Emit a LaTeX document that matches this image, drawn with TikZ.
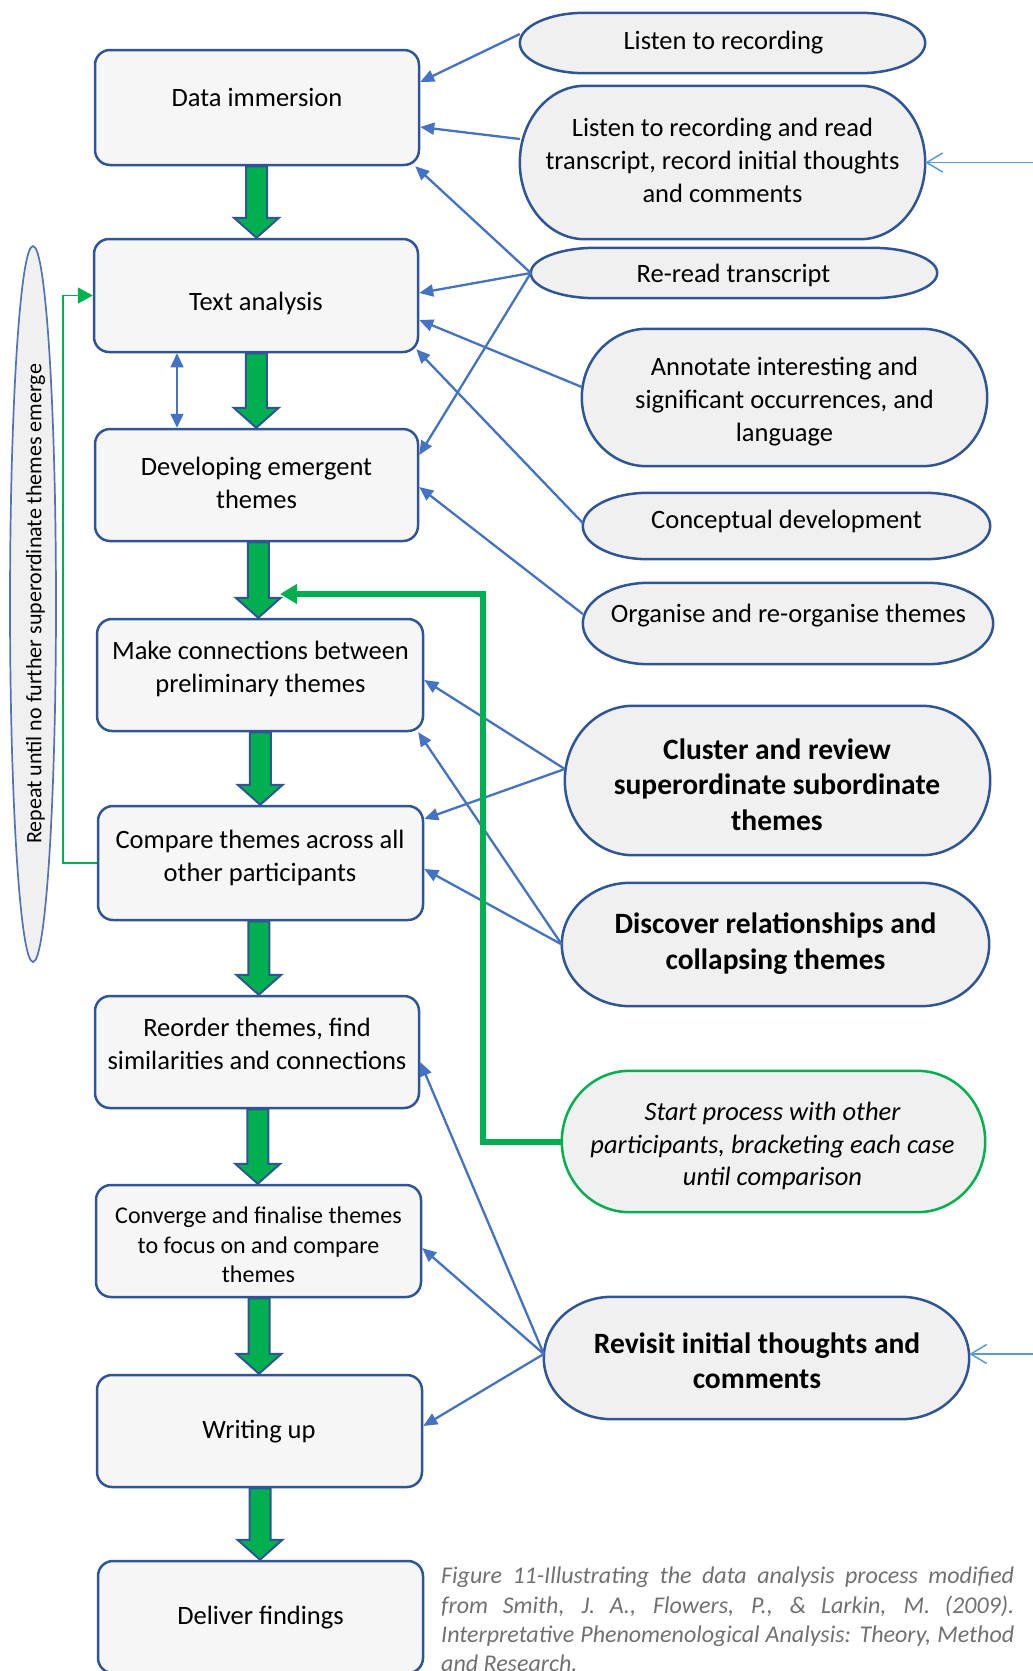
\documentclass[tikz,border=0pt]{standalone}
\usepackage{fontspec}
\setmainfont{Carlito}
\usetikzlibrary{arrows.meta,calc,shapes.geometric}

\definecolor{boxline}{HTML}{2F5597}
\definecolor{boxfill}{HTML}{F6F6F6}
\definecolor{termfill}{HTML}{F0F0F0}
\definecolor{linkblue}{HTML}{4472C4}
\definecolor{feedblue}{HTML}{5B9BD5}
\definecolor{flowgreen}{HTML}{00B050}
\definecolor{captiongray}{HTML}{707070}
\definecolor{loopline}{HTML}{5373B5}

\newcommand\fsz[2]{\fontsize{#1pt}{#2pt}\selectfont}

% outline of a terminator shape (half-ellipse ends) around a rectangular node
\newcommand\termoutline[2]{%
  \path[#2] let \p1=(#1.south west), \p2=(#1.north east),
    \n1={0.16*(\x2-\x1)}, \n2={0.5*(\y2-\y1)} in
    ({\x1+\n1},\y1) -- ({\x2-\n1},\y1)
    arc[start angle=-90, end angle=90, x radius=\n1, y radius=\n2]
    -- ({\x1+\n1},\y2)
    arc[start angle=90, end angle=270, x radius=\n1, y radius=\n2] -- cycle;}

% thick green block arrow from one stage to the next
\newcommand\blockarrow[2]{%
  \path[flow] let \p1=(#1.south), \p2=(#2.north), \n1={0.5*(\x1+\x2)} in
    ({\n1-10.5},\y1) -- ({\n1+10.5},\y1) -- ({\n1+10.5},\y2+20)
    -- ({\n1+22.5},\y2+20) -- (\n1,\y2) -- ({\n1-22.5},\y2+20)
    -- ({\n1-10.5},\y2+20) -- cycle;}

\tikzset{
  stage/.style={rectangle, rounded corners=15pt, draw=boxline, line width=2.5pt,
    fill=boxfill, inner sep=0pt},
  termbox/.style={rectangle, inner sep=0pt},
  termline/.style={draw=boxline, line width=2.5pt, fill=termfill},
  termgreen/.style={draw=flowgreen, line width=2.5pt, fill=termfill},
  lbl/.style={align=center, inner sep=0pt, execute at begin node=\strut,
    execute at end node=\strut, font=\fsz{26.5}{33}},
  lblsmall/.style={lbl, font=\fsz{24}{29.3}},
  lblbold/.style={lbl, font=\fsz{29.5}{35.2}\bfseries},
  lblital/.style={lbl, font=\fsz{26.5}{32.5}\itshape},
  link/.style={draw=linkblue, line width=2.3pt, -{Triangle[length=14pt,width=12pt]}},
  feed/.style={draw=feedblue, line width=1.5pt, -{Straight Barb[length=16pt,width=19pt]}},
  twoway/.style={draw=linkblue, line width=1.6pt,
    {Triangle[length=14pt,width=13pt]}-{Triangle[length=14pt,width=13pt]}},
  loopback/.style={draw=flowgreen, line width=1.6pt, -{Triangle[length=15pt,width=16pt]}},
  thickfeed/.style={draw=flowgreen, line width=6pt, line join=miter,
    -{Triangle[length=17pt,width=19pt]}},
  flow/.style={draw=boxline, line width=2pt, fill=flowgreen, line join=miter},
}

\begin{document}
\begin{tikzpicture}[x=1pt,y=1pt]
\useasboundingbox (0,0) rectangle (1033,-1671);
\clip (0,0) rectangle (1033,-1671);

% repeat loop
\node[ellipse, draw=loopline, line width=1.7pt, fill=termfill,
  minimum width=46pt, minimum height=716pt, inner sep=0pt] (rep) at (33,-604) {};
\node[rotate=90, inner sep=0pt, execute at begin node=\strut, font=\fsz{22}{27}]
  (rep-t) at (36,-604) {Repeat until no further superordinate themes emerge};

% main stages
\node[stage, minimum width=324pt, minimum height=115pt] (data) at (257,-107.5) {};
\node[lbl] (data-t) at (257,-100) {Data immersion};
\node[stage, minimum width=324pt, minimum height=113pt] (text) at (256,-295.5) {};
\node[lbl] (text-t) at (256,-304) {Text analysis};
\node[stage, minimum width=323pt, minimum height=112pt] (dev) at (256.5,-485) {};
\node[lbl] (dev-t) at (256.5,-487.7) {Developing emergent\\themes};
\node[stage, minimum width=326pt, minimum height=112pt] (make) at (260,-675) {};
\node[lbl] (make-t) at (260.5,-671.8) {Make connections between\\preliminary themes};
\node[stage, minimum width=325pt, minimum height=114pt] (comp) at (260.5,-863) {};
\node[lbl] (comp-t) at (260,-860.3) {Compare themes across all\\other participants};
\node[stage, minimum width=324pt, minimum height=112pt] (reord) at (257,-1052) {};
\node[lbl] (reord-t) at (257,-1048.3) {Reorder themes, find\\similarities and connections};
\node[stage, minimum width=325pt, minimum height=112pt] (conv) at (258.5,-1241) {};
\node[lblsmall] (conv-t) at (258.5,-1249.2) {Converge and finalise themes\\to focus on and compare\\themes};
\node[stage, minimum width=325pt, minimum height=112pt] (write) at (259.5,-1431) {};
\node[lbl] (write-t) at (259,-1432.2) {Writing up};
\node[stage, minimum width=325pt, minimum height=112pt] (deliv) at (260.5,-1617) {};
\node[lbl] (deliv-t) at (260.5,-1618) {Deliver findings};

% activities
\node[termbox, minimum width=405pt, minimum height=60pt] (l1) at (722.5,-43) {};
\termoutline{l1}{termline}
\node[lbl] (l1-t) at (723.5,-43.1) {Listen to recording};

\node[termbox, minimum width=405pt, minimum height=153pt] (l2) at (722.5,-162.5) {};
\termoutline{l2}{termline}
\node[lbl] (l2-t) at (722.5,-165.3) {Listen to recording and read\\transcript, record initial thoughts\\and comments};

\node[termbox, minimum width=406pt, minimum height=50pt] (rr) at (734,-273) {};
\termoutline{rr}{termline}
\node[lbl] (rr-t) at (733.5,-276) {Re-read transcript};

\node[termbox, minimum width=405pt, minimum height=137pt] (an) at (784.5,-397.5) {};
\termoutline{an}{termline}
\node[lbl] (an-t) at (784.5,-404.3) {Annotate interesting and\\significant occurrences, and\\language};

\node[termbox, minimum width=407pt, minimum height=66pt] (cd) at (786.5,-526) {};
\termoutline{cd}{termline}
\node[lbl] (cd-t) at (786.5,-522) {Conceptual development};

\node[termbox, minimum width=410pt, minimum height=81pt] (org) at (788,-623.5) {};
\termoutline{org}{termline}
\node[lbl] (org-t) at (788.5,-616) {Organise and re-organise themes};

\node[termbox, minimum width=425pt, minimum height=149pt] (cl) at (777.5,-780.5) {};
\termoutline{cl}{termline}
\node[lblbold] (cl-t) at (777,-789.8) {Cluster and review\\superordinate subordinate\\themes};

\node[termbox, minimum width=427pt, minimum height=123pt] (dis) at (775.5,-944.5) {};
\termoutline{dis}{termline}
\node[lblbold] (dis-t) at (775.5,-946.4) {Discover relationships and\\collapsing themes};

\node[termbox, minimum width=423pt, minimum height=141pt] (sp) at (773.5,-1141.5) {};
\termoutline{sp}{termgreen}
\node[lblital] (sp-t) at (772.5,-1148.8) {Start process with other\\participants, bracketing each case\\until comparison};

\node[termbox, minimum width=425pt, minimum height=122pt] (rev) at (756.5,-1358) {};
\termoutline{rev}{termline}
\node[lblbold] (rev-t) at (757,-1365.8) {Revisit initial thoughts and\\comments};

% flow between stages
\blockarrow{data}{text}
\blockarrow{text}{dev}
\blockarrow{dev}{make}
\blockarrow{make}{comp}
\blockarrow{comp}{reord}
\blockarrow{reord}{conv}
\blockarrow{conv}{write}
\blockarrow{write}{deliv}

% links from activities to stages
\draw[link] ([yshift=9pt]l1.west) -- ([yshift=25.5pt]data.east);
\draw[link] ([yshift=23.5pt]l2.west) -- ([yshift=-19.5pt]data.east);
\draw[link] (rr.west) -- ([xshift=-5pt]data.south east);
\draw[link] (rr.west) -- ([yshift=2.5pt]text.east);
\draw[link] (rr.west) -- ([yshift=30pt]dev.east);
\draw[link] ([yshift=10.5pt]an.west) -- ([yshift=-24.5pt]text.east);
\draw[link] ([yshift=3pt]cd.west) -- ([xshift=-3pt,yshift=4pt]text.south east);
\draw[link] ([yshift=9.5pt]org.west) -- ([yshift=-2pt]dev.east);
\draw[link] ([yshift=11.5pt]cl.west) -- ([yshift=-5pt]make.east);
\draw[link] ([yshift=11.5pt]cl.west) -- ([yshift=44pt]comp.east);
\draw[link] (dis.west) -- ([xshift=-6pt]make.south east);
\draw[link] (dis.west) -- ([yshift=-6pt]comp.east);
\draw[link] ([yshift=4pt]rev.west) -- ([yshift=-10pt]reord.east);
\draw[link] ([yshift=4pt]rev.west) -- ([yshift=-7pt]conv.east);
\draw[link] ([yshift=4pt]rev.west) -- ([yshift=5pt]write.east);

% incoming revisits from the right
\coordinate (in1) at (1060,-162.5);
\coordinate (in2) at (1060,-1354);
\draw[feed] (in1) -- (l2.east);
\draw[feed] (in2) -- ([yshift=4pt]rev.east);

% back and forth between text analysis and emergent themes
\draw[twoway] ([xshift=-79pt]text.south) -- ([xshift=-79.5pt]dev.north);

% repeat loop back to text analysis
\coordinate (loopx) at (63,0);
\draw[loopback] (comp.west) -- (comp.west -| loopx) -- (text.west -| loopx) -- (text.west);

% next participant feeds back into the flow
\coordinate (fbx) at (483,0);
\coordinate (merge) at (280,-594);
\draw[thickfeed] (sp.west) -- (sp.west -| fbx) -- (merge -| fbx) -- (merge);

% caption
\node[anchor=north west, text width=573pt, inner sep=0pt, align=justify,
  font=\fsz{24}{29.4}\itshape, text=captiongray,
  execute at begin node={\hyphenpenalty=10000 \exhyphenpenalty=10000 \strut}] (cap) at (441,-1563)
  {Figure 11-Illustrating the data analysis process modified\linebreak
   from Smith, J. A., Flowers, P., \& Larkin, M. (2009).\linebreak
   Interpretative Phenomenological Analysis: Theory, Method\linebreak
   and Research.};
\end{tikzpicture}
\end{document}
